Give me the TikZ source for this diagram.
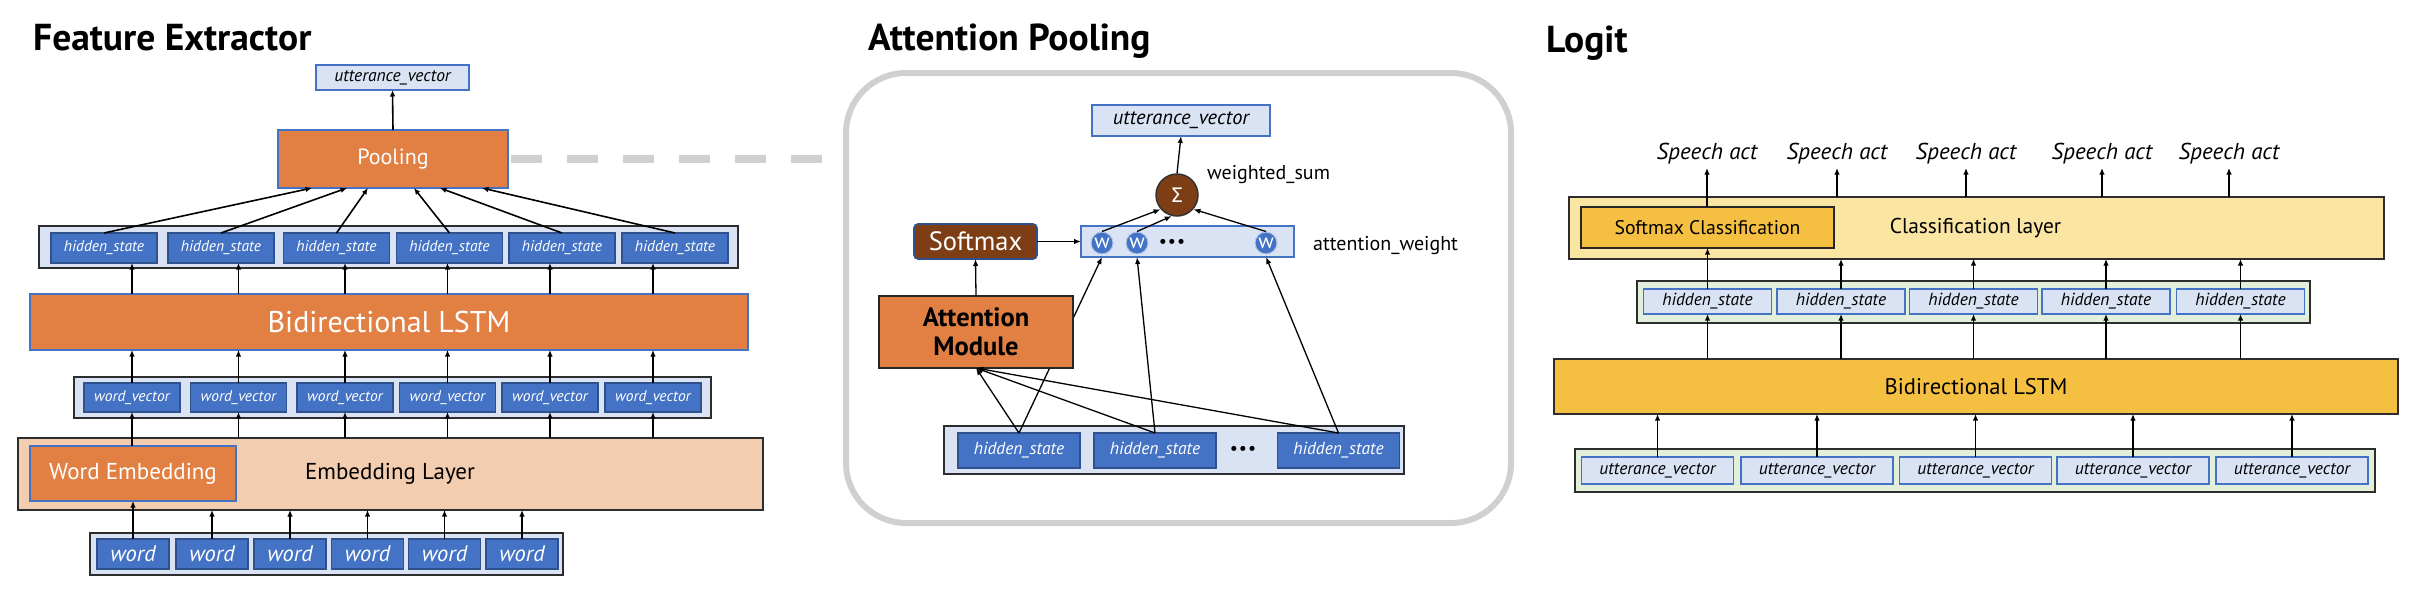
\documentclass[tikz,border=0pt]{standalone}
\usepackage{fontspec}
\setmainfont{PT Sans}
\newfontfamily\sigmafont{DejaVu Sans}
\usetikzlibrary{arrows.meta,calc}
\newcommand{\myfs}[2]{\fontsize{#1}{#2}\selectfont}
\definecolor{orangeF}{RGB}{226,128,68}
\definecolor{blueF}{RGB}{68,114,196}
\definecolor{blueB}{RGB}{47,82,143}
\definecolor{lightB}{RGB}{218,227,243}
\definecolor{contB}{RGB}{45,45,45}
\definecolor{peachF}{RGB}{243,205,176}
\definecolor{goldF}{RGB}{245,192,66}
\definecolor{lightY}{RGB}{251,229,162}
\definecolor{lightG}{RGB}{226,239,218}
\definecolor{brownF}{RGB}{125,62,22}
\definecolor{grayL}{RGB}{208,208,208}
\begin{document}
\begin{tikzpicture}[x=1pt,y=-1pt,
  bx/.style={inner sep=0pt, outer sep=0pt, line width=1.6pt},
  cont/.style={bx, draw=contB, fill=lightB, line width=2.2pt},
  bluebox/.style={bx, draw=blueB, fill=blueF, text=white, font=\itshape\myfs{15.5}{18}},
  orbox/.style={bx, draw=blueF, fill=orangeF, text=white},
  lbbox/.style={bx, draw=blueF, fill=lightB, text=black, font=\itshape\myfs{17.5}{20}},
  arr/.style={-{Latex[length=6.5pt,width=5.5pt]}, line width=1.6pt},
  thinarr/.style={-{Latex[length=7pt,width=5.5pt]}, line width=1.3pt},
  title/.style={anchor=base west, inner sep=0pt, font=\bfseries\myfs{37.5}{40}},
  lbl/.style={inner sep=0pt, font=\myfs{20}{24}},
]
\useasboundingbox (0,0) rectangle (2424,608);
\fill[white] (0,0) rectangle (2424,608);

% ---------- titles
\node[title] (tFE) at (33,50) {Feature Extractor};
\node[title] (tAP) at (868,50) {Attention Pooling};
\node[title] (tLG) at (1546,52) {Logit};

% ---------- Feature Extractor
\node[lbbox, minimum width=153, minimum height=25] (uvFE) at (392.5,77.5) {utterance\_vector};
\node[orbox, minimum width=230, minimum height=58, font=\myfs{22}{26}] (pool) at (393,159) {Pooling};
\node[cont, minimum width=699, minimum height=42] (hsC) at (388.5,247) {};
\foreach \i/\x in {1/104,2/221,3/336.5,4/449.5,5/562,6/675}
  \node[bluebox, minimum width=106, minimum height=30] (hs\i) at (\x,248) {hidden\_state};
\node[orbox, minimum width=718, minimum height=56, font=\myfs{30}{34}] (lstmFE) at (389,322) {Bidirectional LSTM};
\node[cont, minimum width=637, minimum height=41] (wvC) at (392.5,397.5) {};
\foreach \i/\x in {1/132,2/238.5,3/345,4/447.5,5/550,6/653}
  \node[bluebox, minimum width=96, minimum height=29] (wv\i) at (\x,397.5) {word\_vector};
\node[bx, draw=contB, fill=peachF, line width=2pt, minimum width=745, minimum height=72] (embL) at (390.5,474) {};
\node[orbox, minimum width=206, minimum height=55, font=\myfs{23}{27}] (wordEmb) at (133,473.5) {Word Embedding};
\node[inner sep=0pt, font=\myfs{23}{27}] (embT) at (390,474) {Embedding Layer};
\node[cont, minimum width=473, minimum height=42] (wordC) at (326.5,554) {};
\foreach \i/\x in {1/133,2/212,3/290,4/367.5,5/444.5,6/522}
  \node[bluebox, minimum width=72, minimum height=30, font=\itshape\myfs{22.5}{26}] (word\i) at (\x,554) {word};

\draw[arr] (pool.north) -- (uvFE.south);
\foreach \i/\f in {1/0.148,2/0.30,3/0.391,4/0.591,5/0.704,6/0.887}
  \draw[arr] (hs\i.north) -- ($(pool.south west)!\f!(pool.south east)$);
\foreach \i in {1,...,6} {
  \draw[arr] (wv\i |- lstmFE.north) -- (wv\i |- hs\i.south);
  \draw[arr] (wv\i.north) -- (wv\i |- lstmFE.south);
}
\draw[arr] (wv1 |- wordEmb.north) -- (wv1.south);
\foreach \i in {2,...,6} \draw[arr] (wv\i |- embL.north) -- (wv\i.south);
\draw[arr] (word1.north) -- (word1 |- wordEmb.south);
\foreach \i in {2,...,6} \draw[arr] (word\i.north) -- (word\i |- embL.south);

% ---------- Attention Pooling
\node[bx, draw=grayL, line width=6pt, rounded corners=60pt, minimum width=665, minimum height=450] (apbox) at (1178.5,298) {};
\draw[grayL, line width=8pt, dash pattern=on 31pt off 25pt] ([xshift=3pt]pool.east) -- (pool.east -| apbox.west);
\node[lbbox, minimum width=178, minimum height=31, font=\itshape\myfs{20.5}{24}] (uvAP) at (1181,120.5) {utterance\_vector};
\node[circle, draw=black!80, fill=brownF, line width=1.5pt, minimum size=42, inner sep=0pt, text=white, font=\sigmafont\myfs{20}{20}] (sig) at (1177,195) {Σ};
\node[lbl, anchor=base west] (wsum) at (1207,179) {weighted\_sum};
\node[bx, draw=blueF, fill=lightB, minimum width=213, minimum height=31] (awC) at (1187.5,241.5) {};
\foreach \i/\x in {1/1102,2/1137,3/1266}
  \node[circle, draw=white!60!blueF, fill=blueF, line width=1pt, minimum size=22, inner sep=0pt, text=white, font=\myfs{21}{21}] (w\i) at (\x,243) {w};
\node[inner sep=0pt, font=\myfs{18}{18}] (dotsW) at (1172,243) {\textbullet\kern1pt\textbullet\kern1pt\textbullet};
\node[lbl, anchor=base west] (awl) at (1313,250) {attention\_weight};
\node[bx, draw=blueB, fill=brownF, rounded corners=4pt, minimum width=123, minimum height=35, text=white, font=\myfs{26.5}{30}] (soft) at (975.5,241.5) {Softmax};
\node[cont, minimum width=460, minimum height=48, line width=2pt] (hsAPC) at (1174,450) {};
\foreach \i/\x in {1/1019,2/1155,3/1338.5}
  \node[bluebox, minimum width=122, minimum height=35, font=\itshape\myfs{17.5}{20}] (hsA\i) at (\x,450.5) {hidden\_state};
\node[inner sep=0pt, font=\myfs{18}{18}] (dotsH) at (1243,450) {\textbullet\kern1pt\textbullet\kern1pt\textbullet};
\foreach \i in {1,2,3} \draw[thinarr] (hsA\i.north) -- (w\i |- awC.south);
\node[bx, draw=black!85, fill=orangeF, minimum width=194, minimum height=72, align=center, font=\bfseries\myfs{26.5}{28.5}] (attM) at (976,332) {Attention\\Module};
\foreach \i in {1,2,3} \draw[thinarr] (hsA\i.north) -- (attM.south);
\draw[thinarr] (attM.north) -- (soft.south);
\draw[thinarr] (soft.east) -- (awC.west);
\draw[thinarr] (w1.north) -- (sig.221);
\draw[thinarr] (w2.north) -- (sig.256);
\draw[thinarr] (w3.north) -- (sig.319);
\draw[thinarr] (sig.north) -- (uvAP.south);

% ---------- Logit
\foreach \i/\x in {1/1707,2/1837,3/1966,4/2102,5/2229}
  \node[anchor=south, inner sep=4pt, font=\itshape\myfs{23}{26}] (sa\i) at (\x,168) {Speech act};
\node[bx, draw=contB, fill=lightY, line width=2pt, minimum width=815, minimum height=62] (classL) at (1976.5,228) {};
\node[bx, draw=black!85, fill=goldF, line width=2pt, minimum width=253, minimum height=41, font=\myfs{19.7}{23}] (softC) at (1707.5,227.5) {Softmax Classification};
\node[inner sep=0pt, font=\myfs{21.4}{25}] (classT) at (1975.5,228) {Classification layer};
\node[bx, draw=contB, fill=lightG, line width=2pt, minimum width=673, minimum height=42] (hsLC) at (1973.5,302) {};
\foreach \i/\x in {1/1707.5,2/1841,3/1973.5,4/2106,5/2240.5}
  \node[lbbox, minimum width=128, minimum height=25] (hsL\i) at (\x,301.5) {hidden\_state};
\node[bx, draw=contB, fill=goldF, line width=2pt, minimum width=844, minimum height=55, font=\myfs{22.6}{26}] (lstmL) at (1976,386.5) {Bidirectional LSTM};
\node[bx, draw=contB, fill=lightG, line width=2pt, minimum width=800, minimum height=43] (uvLC) at (1975,470.5) {};
\foreach \i/\x in {1/1657.5,2/1817,3/1975.5,4/2133,5/2292}
  \node[lbbox, minimum width=152, minimum height=27] (uvL\i) at (\x,470.5) {utterance\_vector};

\draw[arr] (sa1 |- softC.north) -- (sa1.south);
\foreach \i in {2,...,5} \draw[arr] (sa\i |- classL.north) -- (sa\i.south);
\draw[arr] (hsL1.north) -- (hsL1 |- softC.south);
\foreach \i in {2,...,5} \draw[arr] (hsL\i.north) -- (hsL\i |- classL.south);
\foreach \i in {1,...,5} \draw[arr] (hsL\i |- lstmL.north) -- (hsL\i.south);
\foreach \i in {1,...,5} \draw[arr] (uvL\i.north) -- (uvL\i |- lstmL.south);
\end{tikzpicture}
\end{document}
